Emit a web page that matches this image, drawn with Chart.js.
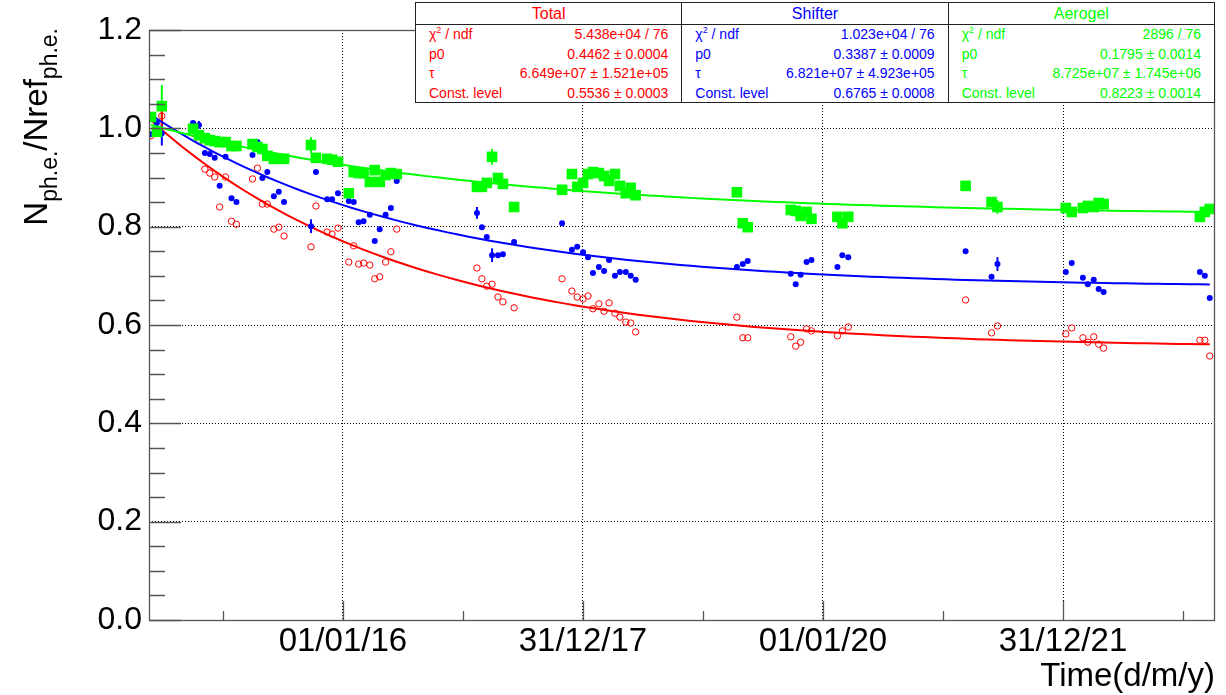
<!DOCTYPE html>
<html>
<head>
<meta charset="utf-8">
<script src="https://cdn.jsdelivr.net/npm/chart.js@4.4.1/dist/chart.umd.min.js"></script>
<style>
  html, body { margin: 0; padding: 0; background: #fff; }
  #wrap { position: relative; width: 1226px; height: 695px; font-family: "Liberation Sans", Arial, sans-serif; }
  #stats { position: absolute; left: 415px; top: 2px; width: 800px; height: 101px; display: flex;
           border: 1px solid #222; box-sizing: border-box; background: #fff; }
  .box { flex: 1; border-left: 1px solid #222; }
  .box:first-child { border-left: none; }
  .head { height: 21px; line-height: 21px; text-align: center; font-size: 16px; border-bottom: 1px solid #222; }
  .row { height: 19.5px; line-height: 19.5px; font-size: 14px; display: flex; justify-content: space-between; padding: 0 13px; }
  .row sup { font-size: 9px; line-height: 0; }
</style>
</head>
<body>
<div id="wrap">
  <canvas id="chart"></canvas>
  <div id="stats"></div>
</div>
<script>
// measurement dates and ratios N/Nref for each channel
const runDates = [
  '2014-05-27', '2014-06-14', '2014-06-29', '2014-10-02', '2014-10-20', '2014-11-07', '2014-11-22',
  '2014-12-07', '2014-12-22', '2015-01-09', '2015-01-27', '2015-02-11', '2015-04-01', '2015-04-16',
  '2015-05-01', '2015-05-16', '2015-06-05', '2015-06-20', '2015-07-06', '2015-09-26', '2015-10-11',
  '2015-11-14', '2015-11-29', '2015-12-17', '2016-01-19', '2016-02-03', '2016-02-18', '2016-03-04',
  '2016-03-23', '2016-04-07', '2016-04-22', '2016-05-10', '2016-05-26', '2016-06-13', '2017-02-12',
  '2017-02-27', '2017-03-14', '2017-03-30', '2017-04-17', '2017-05-02', '2017-06-05', '2017-10-29',
  '2017-11-28', '2017-12-14', '2018-01-01', '2018-01-16', '2018-01-31', '2018-02-18', '2018-03-06',
  '2018-03-21', '2018-04-08', '2018-04-23', '2018-05-11', '2018-05-26', '2018-06-10', '2019-04-14',
  '2019-05-02', '2019-05-17', '2019-09-25', '2019-10-10', '2019-10-25', '2019-11-12', '2019-11-27',
  '2020-02-14', '2020-02-29', '2020-03-18', '2021-03-10', '2021-05-28', '2021-06-15', '2022-01-09',
  '2022-01-27', '2022-03-02', '2022-03-17', '2022-04-04', '2022-04-19', '2022-05-04', '2023-02-21',
  '2023-03-08', '2023-03-23'
];

const totalRatio = [
  0.985, 0.995, 1.025, 0.990, 0.974, 0.917, 0.909, 0.901, 0.840, 0.901, 0.811, 0.805,
  0.897, 0.919, 0.846, 0.846, 0.795, 0.799, 0.781,
  0.759, 0.842, 0.789, 0.785, 0.797,
  0.728, 0.761, 0.724, 0.726, 0.722, 0.694, 0.698, 0.728, 0.749, 0.795,
  0.716, 0.694, 0.679, 0.683, 0.657, 0.647, 0.635,
  0.694, 0.669, 0.657, 0.653, 0.659, 0.633, 0.643, 0.628, 0.645, 0.624, 0.616, 0.606, 0.604, 0.586,
  0.616, 0.574, 0.574,
  0.576, 0.557, 0.565, 0.592, 0.588, 0.578, 0.588, 0.596,
  0.651, 0.584, 0.598,
  0.582, 0.594, 0.574, 0.565, 0.576, 0.561, 0.553,
  0.569, 0.569, 0.537
];

const shifterRatio = [
  0.988, 1.011, 0.990, 1.011, 1.007, 0.950, 0.948, 0.940, 0.883, 0.942, 0.858, 0.850,
  0.946, 0.972, 0.899, 0.911, 0.862, 0.871, 0.850,
  0.801, 0.911, 0.856, 0.856, 0.868,
  0.852, 0.850, 0.809, 0.811, 0.824, 0.771, 0.795, 0.824, 0.838, 0.893,
  0.828, 0.799, 0.779, 0.742, 0.742, 0.744, 0.769,
  0.807, 0.753, 0.759, 0.748, 0.738, 0.706, 0.718, 0.710, 0.732, 0.700, 0.708, 0.708, 0.700, 0.692,
  0.718, 0.724, 0.730,
  0.704, 0.683, 0.702, 0.728, 0.732, 0.718, 0.742, 0.738,
  0.750, 0.698, 0.724,
  0.708, 0.726, 0.696, 0.683, 0.692, 0.673, 0.667,
  0.708, 0.700, 0.655
];

const aerogelRatio = [
  1.023, 0.993, 1.045, 0.999, 0.986, 0.980, 0.976, 0.974, 0.972, 0.972, 0.964, 0.964,
  0.968, 0.962, 0.958, 0.944, 0.938, 0.938, 0.938,
  0.966, 0.940, 0.938, 0.936, 0.932,
  0.868, 0.911, 0.909, 0.909, 0.891, 0.915, 0.891, 0.905, 0.909, 0.907,
  0.881, 0.881, 0.889, 0.942, 0.899, 0.887, 0.840,
  0.875, 0.907, 0.881, 0.889, 0.907, 0.911, 0.909, 0.903, 0.893, 0.907, 0.883, 0.868, 0.879, 0.864,
  0.870, 0.807, 0.799,
  0.834, 0.832, 0.822, 0.830, 0.816, 0.820, 0.807, 0.820,
  0.883, 0.850, 0.840,
  0.838, 0.830, 0.838, 0.842, 0.840, 0.848, 0.846,
  0.820, 0.830, 0.836
];

// [point index, error] - only the visible error bars
const totalErrors = [[2, 0.02]];
const shifterErrors = [[2, 0.025], [4, 0.008], [19, 0.014], [34, 0.012], [37, 0.014], [68, 0.014]];
const aerogelErrors = [[2, 0.043], [19, 0.016], [37, 0.016], [68, 0.014]];

// fit: const + p0 * exp(-(t - t0) / tau), tau in seconds
const fitNames = ['Total', 'Shifter', 'Aerogel'];
const fitP0 = [0.4462, 0.3387, 0.1795];
const fitTau = [6.649e7, 6.821e7, 8.725e7];
const fitConst = [0.5536, 0.6765, 0.8223];
const fitStart = '2014-06-24';

const statChi2 = ['5.438e+04 / 76', '1.023e+04 / 76', '2896 / 76'];
const statP0 = ['0.4462 \u00b1 0.0004', '0.3387 \u00b1 0.0009', '0.1795 \u00b1 0.0014'];
const statTau = ['6.649e+07 \u00b1 1.521e+05', '6.821e+07 \u00b1 4.923e+05', '8.725e+07 \u00b1 1.745e+06'];
const statConst = ['0.5536 \u00b1 0.0003', '0.6765 \u00b1 0.0008', '0.8223 \u00b1 0.0014'];

// axes (x in days since 01/01/16)
const xRange = ['2014-05-21', '2023-04-08'];
const xTickDays = [0, 730.5, 1461, 2191.5];
const xTickLabels = ['01/01/16', '31/12/17', '01/01/20', '31/12/21'];
const xMinorDays = [-365.25, 365.25, 1095.75, 1826.25, 2556.75];
const yTicks = [0, 0.2, 0.4, 0.6, 0.8, 1.0, 1.2];

const colors = ['#ff0000', '#0000ff', '#00ff00'];
const FONT = '"Liberation Sans", Arial, sans-serif';

const refMs = Date.parse('2016-01-01');
const dayOf = s => (Date.parse(s) - refMs) / 86400000;
const runDays = runDates.map(dayOf);

function points(values) {
    return runDays.map((d, i) => ({x: d, y: values[i]}));
}

function fitCurve(k) {
    const t0 = dayOf(fitStart);
    const a = runDays[0], b = runDays[runDays.length - 1];
    const pts = [];
    for (let i = 0; i <= 100; i++) {
        const d = a + (b - a) * i / 100;
        pts.push({x: d, y: fitConst[k] + fitP0[k] * Math.exp(-(d - t0) * 86400 / fitTau[k])});
    }
    return pts;
}

// stats boxes
const stats = document.getElementById('stats');
fitNames.forEach((name, k) => {
    const rows = [['\u03c7<sup>2</sup> / ndf', statChi2[k]], ['p0', statP0[k]], ['\u03c4', statTau[k]], ['Const. level', statConst[k]]];
    let html = `<div class="head">${name}</div>`;
    rows.forEach(r => { html += `<div class="row"><span>${r[0]}</span><span>${r[1]}</span></div>`; });
    const box = document.createElement('div');
    box.className = 'box';
    box.style.color = colors[k];
    box.innerHTML = html;
    stats.appendChild(box);
});

// error bars under the markers
const errorBars = {
    id: 'errorBars',
    beforeDatasetsDraw(chart) {
        const {ctx, scales: {x, y}} = chart;
        ctx.save();
        chart.data.datasets.forEach(ds => {
            if (!ds.errors) return;
            ctx.strokeStyle = ds.borderColor;
            ctx.lineWidth = 2;
            ds.errors.forEach(([i, e]) => {
                const px = x.getPixelForValue(ds.data[i].x);
                ctx.beginPath();
                ctx.moveTo(px, y.getPixelForValue(ds.data[i].y - e));
                ctx.lineTo(px, y.getPixelForValue(ds.data[i].y + e));
                ctx.stroke();
            });
        });
        ctx.restore();
    }
};

// ROOT-like frame, inward ticks and axis titles
const frameAndTitles = {
    id: 'frameAndTitles',
    afterDatasetsDraw(chart) {
        const {ctx, chartArea: a, scales: {x, y}} = chart;
        ctx.save();
        ctx.strokeStyle = '#555';
        ctx.lineWidth = 1.3;
        ctx.strokeRect(a.left + 0.5, a.top + 0.5, a.right - a.left - 1, a.bottom - a.top);
        ctx.beginPath();
        for (let i = 0; i <= 24; i++) {
            const py = Math.round(y.getPixelForValue(i * 0.05)) + 0.5;
            ctx.moveTo(a.left, py);
            ctx.lineTo(a.left + (i % 4 === 0 ? 32 : 16), py);
        }
        xTickDays.forEach(d => {
            const px = Math.round(x.getPixelForValue(d)) + 0.5;
            ctx.moveTo(px, a.bottom);
            ctx.lineTo(px, a.bottom - 19);
        });
        xMinorDays.forEach(d => {
            const px = Math.round(x.getPixelForValue(d)) + 0.5;
            if (px < a.left || px > a.right) return;
            ctx.moveTo(px, a.bottom);
            ctx.lineTo(px, a.bottom - 9);
        });
        ctx.stroke();

        // x title
        ctx.fillStyle = '#000';
        ctx.font = `33px ${FONT}`;
        ctx.textAlign = 'right';
        ctx.textBaseline = 'alphabetic';
        ctx.fillText('Time(d/m/y)', a.right, 686);

        // y title with subscripts, rotated
        const parts = [['N', false], ['ph.e.', true], ['/Nref', false], ['ph.e.', true]];
        const bigFont = `33px ${FONT}`, smallFont = `23px ${FONT}`;
        let total = 0;
        parts.forEach(([t, sub]) => { ctx.font = sub ? smallFont : bigFont; total += ctx.measureText(t).width; });
        ctx.translate(47, 28);
        ctx.rotate(-Math.PI / 2);
        ctx.textAlign = 'left';
        let pos = -total;
        parts.forEach(([t, sub]) => {
            ctx.font = sub ? smallFont : bigFont;
            ctx.fillText(t, pos, sub ? 10 : 0);
            pos += ctx.measureText(t).width;
        });
        ctx.restore();
    }
};

const ctx = document.getElementById('chart').getContext('2d');
const myChart = new Chart(ctx, {
    type: 'scatter',
    data: {
        datasets: [
            {label: 'Aerogel fit', data: fitCurve(2), showLine: true, borderColor: colors[2], borderWidth: 2, pointRadius: 0, order: 0},
            {label: 'Aerogel', data: points(aerogelRatio), errors: aerogelErrors, pointStyle: 'rect', pointRadius: 7.5,
             backgroundColor: colors[2], borderColor: colors[2], borderWidth: 0, order: 1},
            {label: 'Shifter fit', data: fitCurve(1), showLine: true, borderColor: colors[1], borderWidth: 2, pointRadius: 0, order: 2},
            {label: 'Shifter', data: points(shifterRatio), errors: shifterErrors, pointStyle: 'circle', pointRadius: 3,
             backgroundColor: colors[1], borderColor: colors[1], borderWidth: 0, order: 3},
            {label: 'Total fit', data: fitCurve(0), showLine: true, borderColor: colors[0], borderWidth: 2, pointRadius: 0, order: 4},
            {label: 'Total', data: points(totalRatio), errors: totalErrors, pointStyle: 'circle', pointRadius: 3.2,
             backgroundColor: 'rgba(0,0,0,0)', borderColor: colors[0], borderWidth: 1, order: 5}
        ]
    },
    options: {
        responsive: true,
        maintainAspectRatio: false,
        animation: false,
        layout: {padding: {left: 0, top: 30, right: 11, bottom: 0}},
        plugins: {legend: {display: false}, tooltip: {enabled: false}},
        scales: {
            x: {
                type: 'linear',
                min: dayOf(xRange[0]),
                max: dayOf(xRange[1]),
                afterBuildTicks: s => { s.ticks = xTickDays.map(v => ({value: v})); },
                afterFit: s => { s.height = 75; },
                grid: {color: '#000', lineWidth: 1, drawTicks: false},
                border: {display: false, dash: [1, 2]},
                ticks: {
                    autoSkip: false, maxRotation: 0, padding: 2, color: '#000',
                    font: {family: FONT, size: 33},
                    callback: (v, i) => xTickLabels[i]
                }
            },
            y: {
                min: 0,
                max: 1.2,
                afterBuildTicks: s => { s.ticks = yTicks.map(v => ({value: v})); },
                afterFit: s => { s.width = 149; },
                grid: {color: '#000', lineWidth: 1, drawTicks: false},
                border: {display: false, dash: [1, 2]},
                ticks: {
                    padding: 7, color: '#000',
                    font: {family: FONT, size: 32},
                    callback: v => v.toFixed(1)
                }
            }
        }
    },
    plugins: [errorBars, frameAndTitles]
});
</script>
</body>
</html>
